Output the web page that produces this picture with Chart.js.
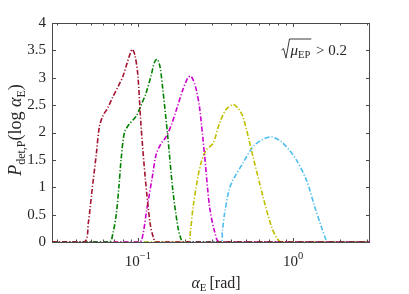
<!DOCTYPE html>
<html>
<head>
<meta charset="utf-8">
<script src="https://cdn.jsdelivr.net/npm/chart.js@4.4.1/dist/chart.umd.min.js"></script>
<style>
  html, body { margin: 0; padding: 0; background: #fff; }
  #wrap { width: 409px; height: 294px; }
</style>
</head>
<body>
<div id="wrap"><canvas id="chart" width="409" height="294"></canvas></div>
<script>
const X_MIN = 0.028;
const X_MAX = 3.13;

const redX = [0.028, 0.0453, 0.048, 0.0505, 0.054, 0.0565, 0.0595, 0.064, 0.069, 0.075, 0.080, 0.086, 0.092, 0.096, 0.100, 0.105, 0.112, 0.120, 0.126, 0.131, 3.13];
const redY = [0, 0, 0.35, 0.9, 1.6, 2.1, 2.3, 2.45, 2.65, 2.85, 3.02, 3.3, 3.52, 3.4, 3.05, 2.1, 1.13, 0.34, 0.08, 0, 0];

const greenX = [0.028, 0.0656, 0.069, 0.0726, 0.0755, 0.078, 0.082, 0.088, 0.0977, 0.105, 0.113, 0.122, 0.128, 0.133, 0.139, 0.145, 0.156, 0.168, 0.181, 0.19, 0.197, 3.13];
const greenY = [0, 0, 0.15, 0.5, 1.0, 1.5, 2.0, 2.15, 2.3, 2.5, 2.72, 3.05, 3.28, 3.34, 3.2, 2.78, 1.92, 0.95, 0.28, 0.05, 0, 0];

const magentaX = [0.028, 0.1026, 0.108, 0.114, 0.124, 0.131, 0.14, 0.152, 0.165, 0.177, 0.195, 0.210, 0.219, 0.228, 0.238, 0.250, 0.269, 0.290, 0.313, 0.336, 3.13];
const magentaY = [0, 0, 0.15, 0.58, 1.19, 1.59, 1.78, 1.92, 2.15, 2.41, 2.78, 3.0, 3.03, 2.95, 2.78, 2.45, 1.59, 0.64, 0.18, 0, 0];

const yellowX = [0.028, 0.210, 0.218, 0.227, 0.244, 0.257, 0.276, 0.305, 0.336, 0.370, 0.410, 0.440, 0.475, 0.552, 0.640, 0.726, 0.790, 0.842, 3.13];
const yellowY = [0, 0, 0.2, 0.64, 1.19, 1.47, 1.68, 1.80, 2.17, 2.42, 2.51, 2.45, 2.29, 1.56, 0.83, 0.28, 0.06, 0, 0];

const blueX = [0.028, 0.340, 0.350, 0.362, 0.387, 0.410, 0.475, 0.552, 0.625, 0.726, 0.842, 0.95, 1.05, 1.22, 1.38, 1.52, 1.62, 1.68, 3.13];
const blueY = [0, 0, 0.2, 0.52, 0.95, 1.13, 1.44, 1.74, 1.86, 1.92, 1.83, 1.67, 1.50, 1.13, 0.64, 0.28, 0.06, 0, 0];

const xMajorTicks = [0.1, 1];
const xMajorLabels = [['10', '\u22121'], ['10', '0']];
const xMinorTicks = [0.03, 0.04, 0.05, 0.06, 0.07, 0.08, 0.09, 0.2, 0.3, 0.4, 0.5, 0.6, 0.7, 0.8, 0.9, 2, 3];

const SERIF = '"Liberation Serif", "DejaVu Serif", serif';
const INK = '#262626';

const series = [
    { x: redX, y: redY, color: '#A2142F' },
    { x: greenX, y: greenY, color: '#008000' },
    { x: magentaX, y: magentaY, color: '#CC00CC' },
    { x: yellowX, y: yellowY, color: '#BFBF00' },
    { x: blueX, y: blueY, color: '#4DBEEE' },
];

const datasets = series.map(s => ({
    data: s.x.map((v, i) => ({ x: v, y: s.y[i] })),
    borderColor: s.color,
    borderWidth: 1.6,
    borderDash: [5, 2, 1.2, 2],
    pointRadius: 0,
    fill: false,
    tension: 0.3,
}));

// draw a run of text pieces (font, dy) starting at x
function drawRun(ctx, parts, x, y) {
    let cx = x;
    parts.forEach(p => {
        ctx.font = p.font;
        ctx.fillText(p.t, cx, y + (p.dy || 0));
        cx += ctx.measureText(p.t).width + (p.gap || 0);
    });
    return cx;
}
function runWidth(ctx, parts) {
    let w = 0;
    parts.forEach(p => { ctx.font = p.font; w += ctx.measureText(p.t).width + (p.gap || 0); });
    return w;
}

const decor = {
    id: 'decor',
    beforeDatasetsDraw(chart) {
        // axes box and inward ticks, under the curves
        const ctx = chart.ctx;
        const a = chart.chartArea;
        const xs = chart.scales.x;
        const ys = chart.scales.y;
        ctx.save();
        ctx.strokeStyle = '#4a4a4a';
        ctx.lineWidth = 1;
        ctx.strokeRect(a.left + 0.5, a.top + 0.5, a.right - a.left - 1, a.bottom - a.top);

        ctx.beginPath();
        ys.ticks.forEach(t => {
            const py = Math.round(ys.getPixelForValue(t.value)) + 0.5;
            ctx.moveTo(a.left, py); ctx.lineTo(a.left + 4, py);
            ctx.moveTo(a.right, py); ctx.lineTo(a.right - 4, py);
        });
        xMajorTicks.forEach(v => {
            const px = Math.round(xs.getPixelForValue(v)) + 0.5;
            ctx.moveTo(px, a.bottom); ctx.lineTo(px, a.bottom - 4);
            ctx.moveTo(px, a.top); ctx.lineTo(px, a.top + 4);
        });
        xMinorTicks.forEach(v => {
            const px = Math.round(xs.getPixelForValue(v)) + 0.5;
            ctx.moveTo(px, a.bottom); ctx.lineTo(px, a.bottom - 2.5);
            ctx.moveTo(px, a.top); ctx.lineTo(px, a.top + 2.5);
        });
        ctx.stroke();
        ctx.restore();
    },
    afterDraw(chart) {
        const ctx = chart.ctx;
        const xs = chart.scales.x;
        ctx.save();
        ctx.fillStyle = INK;
        ctx.textBaseline = 'alphabetic';
        ctx.textAlign = 'left';

        // x tick labels with superscripts
        xMajorTicks.forEach((v, i) => {
            const parts = [
                { t: xMajorLabels[i][0], font: '15px ' + SERIF },
                { t: xMajorLabels[i][1], font: '10.5px ' + SERIF, dy: -7 },
            ];
            const w = runWidth(ctx, parts);
            drawRun(ctx, parts, xs.getPixelForValue(v) - w / 2, 266);
        });

        // x axis title
        const xt = [
            { t: '\u03b1', font: 'italic 16px ' + SERIF },
            { t: 'E', font: '11px ' + SERIF, dy: 3, gap: 3 },
            { t: '[rad]', font: '16px ' + SERIF },
        ];
        drawRun(ctx, xt, 216 - runWidth(ctx, xt) / 2, 288);

        // y axis title
        const yt = [
            { t: 'P', font: 'italic 18px ' + SERIF },
            { t: 'det,P', font: '12px ' + SERIF, dy: 4 },
            { t: '(log ', font: '18px ' + SERIF },
            { t: '\u03b1', font: 'italic 18px ' + SERIF },
            { t: 'E', font: '12px ' + SERIF, dy: 4 },
            { t: ')', font: '18px ' + SERIF },
        ];
        ctx.save();
        ctx.translate(21, 130);
        ctx.rotate(-Math.PI / 2);
        drawRun(ctx, yt, -runWidth(ctx, yt) / 2, 0);
        ctx.restore();

        // annotation sqrt(mu_EP) > 0.2
        const under = [
            { t: '\u03bc', font: 'italic 15px ' + SERIF },
            { t: 'EP', font: '10.5px ' + SERIF, dy: 3 },
        ];
        const tail = [{ t: ' > 0.2', font: '15px ' + SERIF }];
        const radW = 9;
        const total = radW + runWidth(ctx, under) + runWidth(ctx, tail) + 2;
        const x0 = 347 - total;
        const base = 55;
        const ux = x0 + radW;
        const uEnd = ux + runWidth(ctx, under) + 1;
        ctx.strokeStyle = INK;
        ctx.lineWidth = 0.9;
        ctx.beginPath();
        ctx.moveTo(x0, base - 5);
        ctx.lineTo(x0 + 2, base - 6.5);
        ctx.lineTo(x0 + 4.5, base + 3);
        ctx.lineTo(x0 + 8, base - 16);
        ctx.lineTo(uEnd, base - 16);
        ctx.stroke();
        drawRun(ctx, under, ux, base);
        drawRun(ctx, tail, uEnd + 1, base);
        ctx.restore();
    }
};

new Chart(document.getElementById('chart'), {
    type: 'line',
    data: { datasets },
    options: {
        responsive: false,
        animation: false,
        layout: { padding: { top: 23, right: 39, left: 0, bottom: 0 } },
        plugins: { legend: { display: false }, tooltip: { enabled: false } },
        scales: {
            x: {
                type: 'logarithmic',
                min: X_MIN,
                max: X_MAX,
                grid: { display: false },
                border: { display: false },
                ticks: { display: false },
                afterFit: s => { s.height = 52; },
            },
            y: {
                min: 0,
                max: 4,
                grid: { display: false, drawTicks: false },
                border: { display: false },
                ticks: {
                    stepSize: 0.5,
                    padding: 6,
                    color: INK,
                    font: { family: SERIF, size: 15 },
                    callback: v => String(v),
                },
                afterFit: s => { s.width = 52; },
            },
        },
    },
    plugins: [decor],
});
</script>
</body>
</html>
